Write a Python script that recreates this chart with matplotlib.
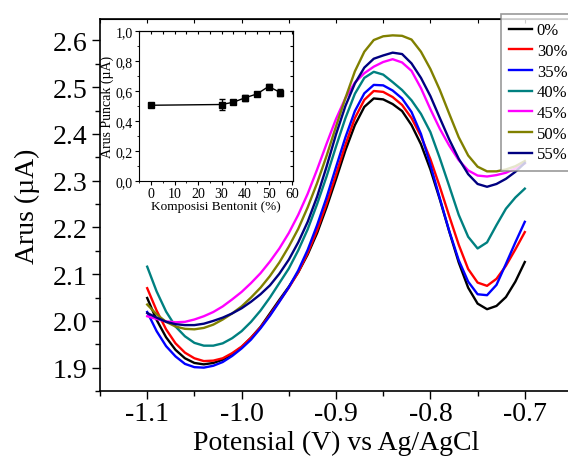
import matplotlib
matplotlib.use("Agg")
import matplotlib.pyplot as plt
from matplotlib import ticker
import numpy as np

plt.rcParams['font.family'] = ['Liberation Serif', 'DejaVu Serif']
plt.rcParams['axes.unicode_minus'] = False

# potential grid (V vs Ag/AgCl), -1.10 ... -0.70
potensial = np.round(np.arange(-1.10, -0.695, 0.01), 2)

arus_0 = [2.049, 2.002, 1.965, 1.938, 1.920, 1.910, 1.907, 1.910, 1.917, 1.929,
          1.944, 1.964, 1.987, 2.016, 2.045, 2.073, 2.104, 2.142, 2.188, 2.243,
          2.303, 2.365, 2.419, 2.458, 2.476, 2.474, 2.464, 2.449, 2.419, 2.378,
          2.324, 2.260, 2.191, 2.125, 2.071, 2.037, 2.025, 2.032, 2.051, 2.084,
          2.126]
arus_30 = [2.070, 2.022, 1.982, 1.952, 1.932, 1.920, 1.914, 1.915, 1.920, 1.931,
           1.945, 1.964, 1.986, 2.013, 2.042, 2.071, 2.104, 2.145, 2.194, 2.251,
           2.313, 2.377, 2.434, 2.473, 2.492, 2.490, 2.479, 2.462, 2.434, 2.395,
           2.346, 2.287, 2.224, 2.163, 2.111, 2.082, 2.075, 2.090, 2.118, 2.153,
           2.190]
arus_35 = [2.019, 1.978, 1.946, 1.924, 1.908, 1.901, 1.900, 1.904, 1.912, 1.925,
           1.941, 1.960, 1.984, 2.011, 2.041, 2.072, 2.108, 2.152, 2.205, 2.264,
           2.329, 2.393, 2.449, 2.487, 2.505, 2.504, 2.493, 2.476, 2.447, 2.400,
           2.334, 2.262, 2.192, 2.130, 2.084, 2.057, 2.055, 2.077, 2.122, 2.168,
           2.212]
arus_40 = [2.116, 2.063, 2.020, 1.988, 1.967, 1.953, 1.947, 1.947, 1.952, 1.963,
           1.978, 1.998, 2.022, 2.050, 2.081, 2.112, 2.151, 2.196, 2.250, 2.309,
           2.373, 2.434, 2.486, 2.520, 2.533, 2.527, 2.511, 2.494, 2.472, 2.443,
           2.404, 2.348, 2.288, 2.227, 2.180, 2.155, 2.168, 2.205, 2.240, 2.264,
           2.283]
arus_45 = [2.010, 2.004, 1.999, 1.997, 1.998, 2.003, 2.010, 2.019, 2.031, 2.046,
           2.062, 2.081, 2.102, 2.127, 2.155, 2.188, 2.227, 2.272, 2.324, 2.379,
           2.432, 2.477, 2.510, 2.530, 2.544, 2.554, 2.560, 2.553, 2.535, 2.498,
           2.453, 2.411, 2.375, 2.344, 2.322, 2.311, 2.309, 2.312, 2.317, 2.326,
           2.337]
arus_50 = [2.035, 2.014, 1.998, 1.988, 1.983, 1.982, 1.985, 1.992, 2.003, 2.016,
           2.031, 2.050, 2.071, 2.096, 2.125, 2.159, 2.197, 2.243, 2.295, 2.353,
           2.416, 2.477, 2.534, 2.576, 2.601, 2.609, 2.611, 2.610, 2.602, 2.576,
           2.539, 2.494, 2.443, 2.393, 2.354, 2.330, 2.320, 2.320, 2.324, 2.331,
           2.342]
arus_55 = [2.017, 2.007, 1.998, 1.993, 1.991, 1.991, 1.994, 2.000, 2.007, 2.016,
           2.027, 2.041, 2.057, 2.076, 2.101, 2.131, 2.168, 2.212, 2.266, 2.330,
           2.399, 2.460, 2.508, 2.542, 2.561, 2.568, 2.574, 2.571, 2.551, 2.520,
           2.481, 2.434, 2.388, 2.347, 2.314, 2.293, 2.287, 2.293, 2.304, 2.319,
           2.338]

labels = ["0%", "30%", "35%", "40%", "45%", "50%", "55%"]
colors = ["black", "#ff0000", "#0000ff", "#008080", "#ff00ff", "#808000", "#000080"]
series = [arus_0, arus_30, arus_35, arus_40, arus_45, arus_50, arus_55]

# inset: peak current vs bentonite composition
komposisi = [0, 30, 35, 40, 45, 50, 55]
arus_puncak = [0.505, 0.510, 0.525, 0.555, 0.580, 0.630, 0.590]
galat = [0.012, 0.035, 0.012, 0.020, 0.010, 0.015, 0.025]

fig = plt.figure(figsize=(5.68, 4.64), dpi=100)
ax = fig.add_axes([100/568, 72/464, 472/568, 372/464])

for y, lab, c in zip(series, labels, colors):
    ax.plot(potensial, y, color=c, lw=1.7, label=lab, solid_joinstyle='round')

ax.set_xlim(-1.15, -0.65)
ax.set_ylim(1.85, 2.646)
ax.xaxis.set_major_locator(ticker.MultipleLocator(0.1))
ax.xaxis.set_minor_locator(ticker.MultipleLocator(0.05))
ax.yaxis.set_major_locator(ticker.MultipleLocator(0.1))
ax.yaxis.set_minor_locator(ticker.MultipleLocator(0.05))
ax.xaxis.set_major_formatter(ticker.FormatStrFormatter('%.1f'))
ax.yaxis.set_major_formatter(ticker.FormatStrFormatter('%.1f'))
ax.tick_params(which='major', direction='out', length=6, width=1, labelsize=20)
ax.tick_params(which='minor', direction='out', length=3.5, width=1)
ax.tick_params(axis='x', pad=1)
ax.tick_params(axis='y', pad=3)
for s in ax.spines.values():
    s.set_linewidth(1.2)
ax.set_xlabel("Potensial (V) vs Ag/AgCl", fontsize=20, labelpad=3)
ax.set_ylabel("Arus (µA)", fontsize=20, labelpad=9)

top = ax.secondary_xaxis('top')
top.xaxis.set_major_locator(ticker.MultipleLocator(0.05))
top.tick_params(direction='in', length=3, labeltop=False)

leg = ax.legend(loc='upper left', bbox_to_anchor=(501/568, 1 - 15/464),
                bbox_transform=fig.transFigure, fontsize=12, frameon=True,
                fancybox=False, edgecolor='gray', handlelength=1.35,
                handletextpad=0.3, labelspacing=0.28, borderaxespad=0,
                borderpad=0.5)
leg.get_frame().set_linewidth(1.2)

# inset
axins = fig.add_axes([139.3/568, 282/464, 154/568, 150/464])
axins.set_facecolor('white')
axins.errorbar(komposisi, arus_puncak, yerr=galat, color='black', marker='s',
               ms=3.8, lw=1, capsize=2, elinewidth=1)
axins.set_xlim(-5, 60.5)
axins.set_ylim(0, 1.0)
axins.xaxis.set_major_locator(ticker.MultipleLocator(10))
axins.xaxis.set_minor_locator(ticker.MultipleLocator(5))
axins.yaxis.set_major_locator(ticker.MultipleLocator(0.2))
axins.yaxis.set_minor_locator(ticker.MultipleLocator(0.1))
axins.yaxis.set_major_formatter(ticker.FuncFormatter(lambda v, p: f"{v:.1f}".replace('.', ',')))
axins.tick_params(which='major', direction='out', length=3, labelsize=10, pad=1.5)
axins.tick_params(which='minor', direction='out', length=1.5)
axins.set_xlabel("Komposisi Bentonit (%)", fontsize=9.5, labelpad=0)
axins.set_ylabel("Arus Puncak (µA)", fontsize=10, labelpad=1)
sec_x = axins.secondary_xaxis('top')
sec_x.xaxis.set_major_locator(ticker.MultipleLocator(5))
sec_x.tick_params(direction='in', length=2, labeltop=False)
sec_y = axins.secondary_yaxis('right')
sec_y.yaxis.set_major_locator(ticker.MultipleLocator(0.1))
sec_y.tick_params(direction='in', length=2, labelright=False)

fig.savefig("out.png", dpi=100)
